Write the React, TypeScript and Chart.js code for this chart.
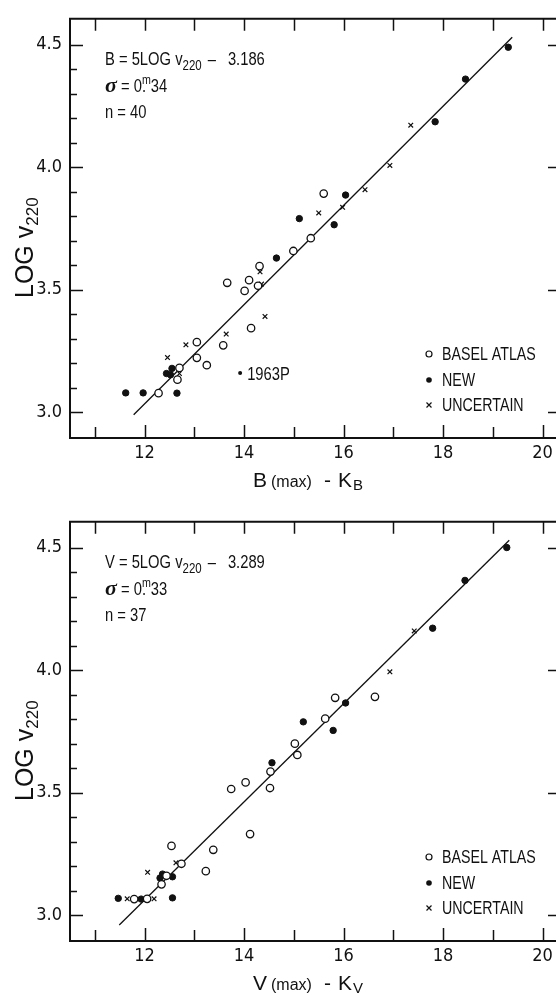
import React, { useEffect, useRef } from 'react';
import { Chart, registerables } from 'chart.js';

Chart.register(...registerables);

// ---------- axis ticks ----------
const X_TICKS = [12, 14, 16, 18, 20];
const X_MINOR_TICKS = [11, 12, 13, 14, 15, 16, 17, 18, 19, 20];
const Y_TICKS = [3.0, 3.5, 4.0, 4.5];
const Y_MINOR_TICKS = [3.0, 3.1, 3.2, 3.3, 3.4, 3.5, 3.6, 3.7, 3.8, 3.9, 4.0, 4.1, 4.2, 4.3, 4.4, 4.5];
const X_RANGE = [10.5, 20.35];
const Y_RANGE = [2.895, 4.605];

// ---------- upper panel: B(max) - K_B ----------
const B_BASEL_X = [15.60, 15.34, 14.99, 14.31, 14.10, 14.28, 14.01, 13.66, 14.14, 13.58, 13.05, 13.05, 13.25, 12.70, 12.66, 12.28];
const B_BASEL_Y = [3.892, 3.710, 3.658, 3.596, 3.539, 3.516, 3.495, 3.528, 3.343, 3.273, 3.286, 3.222, 3.192, 3.181, 3.133, 3.078];
const B_NEW_X = [19.31, 18.45, 17.84, 16.04, 15.81, 15.11, 14.65, 12.55, 12.44, 12.52, 11.62, 11.97, 12.65];
const B_NEW_Y = [4.489, 4.359, 4.185, 3.886, 3.765, 3.790, 3.629, 3.179, 3.158, 3.153, 3.079, 3.079, 3.078];
const B_UNC_X = [17.35, 16.93, 16.43, 15.98, 15.50, 14.32, 14.35, 14.42, 13.64, 12.83, 12.46, 12.70];
const B_UNC_Y = [4.171, 4.007, 3.908, 3.836, 3.813, 3.573, 3.523, 3.391, 3.319, 3.275, 3.223, 3.158];
const B_1963P_X = [13.92];
const B_1963P_Y = [3.160];
const B_FIT_X = [11.78, 19.39];
const B_FIT_Y = [2.99, 4.53];

// ---------- lower panel: V(max) - K_V ----------
const V_BASEL_X = [16.63, 15.83, 15.63, 15.02, 15.07, 14.53, 14.52, 14.03, 13.74, 14.12, 12.54, 13.38, 12.74, 13.23, 12.44, 12.34, 11.79, 12.05];
const V_BASEL_Y = [3.891, 3.887, 3.802, 3.700, 3.654, 3.586, 3.519, 3.542, 3.515, 3.331, 3.283, 3.267, 3.210, 3.180, 3.161, 3.126, 3.066, 3.067];
const V_NEW_X = [19.28, 18.44, 17.79, 16.04, 15.79, 15.19, 14.56, 12.36, 12.31, 12.56, 11.47, 11.93, 12.56];
const V_NEW_Y = [4.500, 4.366, 4.171, 3.866, 3.754, 3.789, 3.622, 3.168, 3.152, 3.157, 3.069, 3.066, 3.071];
const V_UNC_X = [17.42, 16.93, 12.63, 12.06, 11.65, 12.19];
const V_UNC_Y = [4.160, 3.993, 3.214, 3.175, 3.067, 3.067];
const V_FIT_X = [11.49, 19.33];
const V_FIT_Y = [2.96, 4.53];

const LEGEND_LABELS = ['BASEL ATLAS', 'NEW', 'UNCERTAIN'];

const CONDENSED = '"DejaVu Sans Condensed", "Liberation Sans Narrow", sans-serif';
const SANS = '"Liberation Sans", Arial, Helvetica, sans-serif';
const SERIF = '"Liberation Serif", "DejaVu Serif", serif';
const INK = '#111';
const NARROW_SCALE = 0.82;

type Run = { text: string; font: string; dy?: number; gap?: number; sx?: number };

function drawRuns(ctx: CanvasRenderingContext2D, runs: Run[], x: number, y: number) {
  let cx = x;
  for (const r of runs) {
    cx += r.gap || 0;
    const sx = r.sx ?? 1;
    ctx.font = r.font;
    ctx.save();
    ctx.translate(cx, y + (r.dy || 0));
    ctx.scale(sx, 1);
    ctx.fillText(r.text, 0, 0);
    ctx.restore();
    cx += ctx.measureText(r.text).width * sx;
  }
}

const zip = (xs: number[], ys: number[]) => xs.map((x, i) => ({ x, y: ys[i] }));

type PanelProps = {
  letter: string;
  constant: string;
  sigma: string;
  n: string;
  baselX: number[]; baselY: number[];
  newX: number[]; newY: number[];
  uncX: number[]; uncY: number[];
  fitX: number[]; fitY: number[];
  extraX?: number[]; extraY?: number[]; extraLabel?: string;
  top: number;
};

function Panel(p: PanelProps) {
  const ref = useRef<HTMLCanvasElement>(null);
  useEffect(() => {
    const canvas = ref.current!;
    const datasets: any[] = [
      {
        label: LEGEND_LABELS[0], data: zip(p.baselX, p.baselY),
        pointStyle: 'circle', pointRadius: 3.7, pointBorderWidth: 1.3,
        pointBackgroundColor: '#fff', pointBorderColor: INK,
      },
      {
        label: LEGEND_LABELS[1], data: zip(p.newX, p.newY),
        pointStyle: 'circle', pointRadius: 3.2, pointBorderWidth: 1,
        pointBackgroundColor: INK, pointBorderColor: INK,
      },
      {
        label: LEGEND_LABELS[2], data: zip(p.uncX, p.uncY),
        pointStyle: 'crossRot', pointRadius: 3.3, pointBorderWidth: 1.2,
        pointBackgroundColor: INK, pointBorderColor: INK,
      },
    ];
    if (p.extraX && p.extraY) {
      datasets.push({
        label: p.extraLabel, data: zip(p.extraX, p.extraY),
        pointStyle: 'circle', pointRadius: 2, pointBorderWidth: 0,
        pointBackgroundColor: INK, pointBorderColor: INK,
      });
    }
    datasets.push({
      label: 'fit', data: zip(p.fitX, p.fitY), showLine: true,
      borderColor: INK, borderWidth: 1.3, pointRadius: 0,
    });

    const overlay = {
      id: 'overlay',
      afterDraw(chart: any) {
        const ctx: CanvasRenderingContext2D = chart.ctx;
        const { left, right, top, bottom } = chart.chartArea;
        const xs = chart.scales.x;
        const ys = chart.scales.y;
        ctx.save();
        ctx.strokeStyle = INK;
        ctx.fillStyle = INK;
        // frame
        ctx.lineWidth = 2;
        ctx.beginPath();
        ctx.moveTo(right, top); ctx.lineTo(left, top); ctx.lineTo(left, bottom); ctx.lineTo(right, bottom); ctx.lineTo(right, top);
        ctx.stroke();
        // inward ticks
        ctx.lineWidth = 1.5;
        ctx.beginPath();
        for (const v of X_MINOR_TICKS) {
          const px = Math.round(xs.getPixelForValue(v)) + 0.5;
          const len = X_TICKS.includes(v) ? 13 : 11;
          ctx.moveTo(px, bottom); ctx.lineTo(px, bottom - len);
          ctx.moveTo(px, top); ctx.lineTo(px, top + 12);
        }
        for (const v of Y_MINOR_TICKS) {
          const py = Math.round(ys.getPixelForValue(v)) + 0.5;
          const major = Y_TICKS.some((t) => Math.abs(t - v) < 1e-6);
          ctx.moveTo(left, py); ctx.lineTo(left + (major ? 13 : 7), py);
          if (major) { ctx.moveTo(right, py); ctx.lineTo(right - 12, py); }
        }
        ctx.stroke();

        // equation block
        ctx.textAlign = 'left';
        ctx.textBaseline = 'alphabetic';
        const f18 = `18px ${SANS}`;
        const S = NARROW_SCALE;
        drawRuns(ctx, [
          { text: `${p.letter} = 5LOG v`, font: f18, sx: S },
          { text: '220', font: `14px ${SANS}`, dy: 5, sx: S },
          { text: '\u2013', font: f18, gap: 6, sx: S },
          { text: p.constant, font: f18, gap: 12, sx: S },
        ], 105, 65);
        drawRuns(ctx, [
          { text: '\u03c3', font: `italic bold 22px ${SERIF}` },
          { text: ' = 0.', font: f18, sx: S },
          { text: 'm', font: `13px ${SANS}`, dy: -8, gap: -4, sx: S },
          { text: p.sigma, font: f18, sx: S },
        ], 105, 92);
        drawRuns(ctx, [{ text: `n = ${p.n}`, font: f18, sx: S }], 105, 118);

        // legend
        const lx = 429;
        const baselines = [360, 386, 411];
        LEGEND_LABELS.forEach((lab, i) =>
          drawRuns(ctx, [{ text: lab, font: `18px ${SANS}`, sx: 0.79 }], 442, baselines[i]));
        const my = baselines.map((b) => b - 6);
        ctx.lineWidth = 1.2;
        ctx.beginPath(); ctx.arc(lx, my[0], 3, 0, Math.PI * 2); ctx.stroke();
        ctx.beginPath(); ctx.arc(lx, my[1], 2.8, 0, Math.PI * 2); ctx.fill();
        ctx.beginPath();
        ctx.moveTo(lx - 2.5, my[2] - 2.5); ctx.lineTo(lx + 2.5, my[2] + 2.5);
        ctx.moveTo(lx - 2.5, my[2] + 2.5); ctx.lineTo(lx + 2.5, my[2] - 2.5);
        ctx.stroke();

        // annotation for the labelled point
        if (p.extraX && p.extraY && p.extraLabel) {
          const ex = xs.getPixelForValue(p.extraX[0]);
          const ey = ys.getPixelForValue(p.extraY[0]);
          drawRuns(ctx, [{ text: p.extraLabel, font: `18px ${SANS}`, sx: S }], ex + 7, ey + 7);
        }

        // x-axis title
        drawRuns(ctx, [
          { text: p.letter, font: `21px ${SANS}` },
          { text: '(max)', font: `16px ${SANS}`, gap: 4 },
          { text: '-', font: `21px ${SANS}`, gap: 12 },
          { text: 'K', font: `21px ${SANS}`, gap: 7 },
          { text: p.letter, font: `15px ${SANS}`, dy: 3, gap: 1 },
        ], 253, 487);

        // y-axis title
        ctx.translate(33, 298);
        ctx.rotate(-Math.PI / 2);
        drawRuns(ctx, [
          { text: 'LOG v', font: `25px ${SANS}` },
          { text: '220', font: `17px ${SANS}`, dy: 5 },
        ], 0, 0);
        ctx.restore();
      },
    };

    const chart = new Chart(canvas, {
      type: 'scatter',
      data: { datasets },
      options: {
        responsive: false,
        animation: false,
        devicePixelRatio: 1,
        events: [],
        layout: { padding: { top: 15, right: 15, left: 0, bottom: 0 } },
        plugins: { legend: { display: false }, tooltip: { enabled: false } },
        scales: {
          x: {
            type: 'linear', min: X_RANGE[0], max: X_RANGE[1],
            grid: { display: false, drawTicks: false },
            border: { display: false },
            ticks: { color: INK, font: { family: CONDENSED, size: 18 }, padding: 5, maxRotation: 0, autoSkip: false, callback: (v: any) => String(v) },
            afterBuildTicks: (ax: any) => { ax.ticks = X_TICKS.map((value) => ({ value })); },
            afterFit: (ax: any) => { ax.height = 62; },
          },
          y: {
            type: 'linear', min: Y_RANGE[0], max: Y_RANGE[1],
            grid: { display: false, drawTicks: false },
            border: { display: false },
            ticks: { color: INK, font: { family: CONDENSED, size: 18 }, padding: 8, autoSkip: false, callback: (v: any) => Number(v).toFixed(1) },
            afterBuildTicks: (ax: any) => { ax.ticks = Y_TICKS.map((value) => ({ value })); },
            afterFit: (ax: any) => { ax.width = 70; },
          },
        },
      } as any,
      plugins: [overlay],
    });
    return () => chart.destroy();
  }, []);
  return (
    <canvas
      ref={ref}
      width={575}
      height={500}
      style={{ position: 'absolute', left: 0, top: p.top, display: 'block' }}
    />
  );
}

export default function App() {
  useEffect(() => {
    document.body.style.margin = '0';
    document.body.style.background = '#fff';
  }, []);
  return (
    <div style={{ position: 'relative', width: 556, height: 993, overflow: 'hidden', background: '#fff' }}>
      <Panel
        letter="B" constant="3.186" sigma="34" n="40"
        baselX={B_BASEL_X} baselY={B_BASEL_Y}
        newX={B_NEW_X} newY={B_NEW_Y}
        uncX={B_UNC_X} uncY={B_UNC_Y}
        fitX={B_FIT_X} fitY={B_FIT_Y}
        extraX={B_1963P_X} extraY={B_1963P_Y} extraLabel="1963P"
        top={0}
      />
      <Panel
        letter="V" constant="3.289" sigma="33" n="37"
        baselX={V_BASEL_X} baselY={V_BASEL_Y}
        newX={V_NEW_X} newY={V_NEW_Y}
        uncX={V_UNC_X} uncY={V_UNC_Y}
        fitX={V_FIT_X} fitY={V_FIT_Y}
        top={503}
      />
    </div>
  );
}
